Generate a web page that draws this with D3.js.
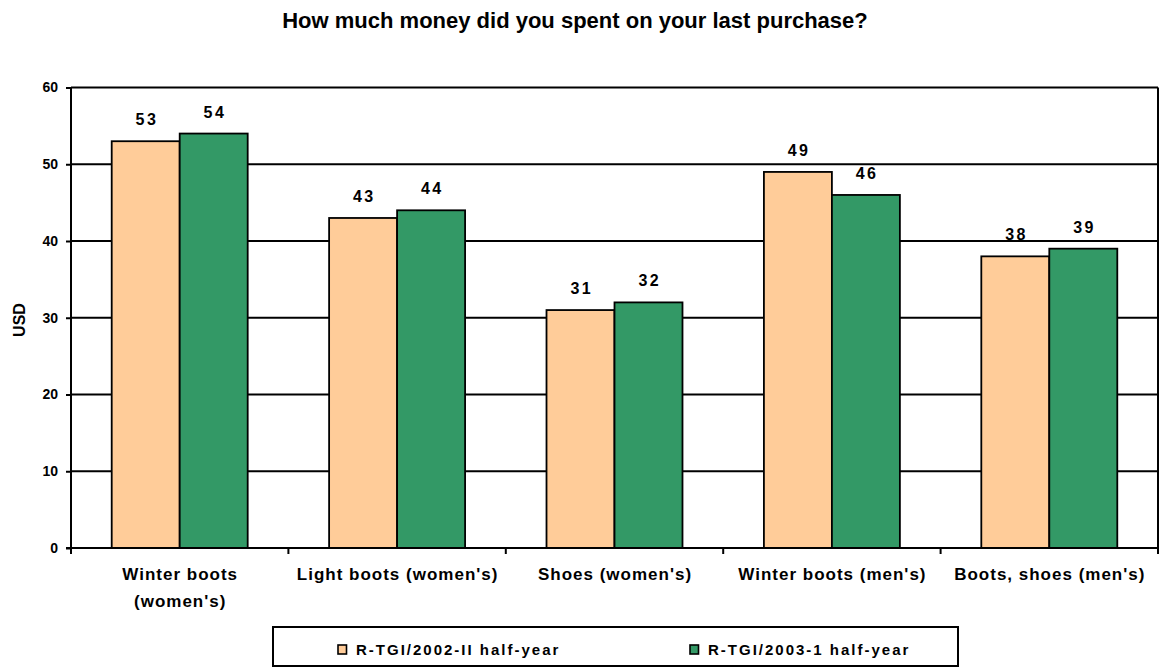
<!DOCTYPE html>
<html>
<head>
<meta charset="utf-8">
<script src="https://cdn.jsdelivr.net/npm/d3@7"></script>
<style>
  html, body { margin: 0; padding: 0; background: #fff; }
  svg { display: block; }
  text { font-family: "Liberation Sans", Arial, sans-serif; font-weight: bold; fill: #000; }
</style>
</head>
<body>
<svg id="chart" width="1160" height="668"></svg>
<script>
// Average spend on the last footwear purchase, USD
const categories = ["Winter boots (women's)", "Light boots (women's)", "Shoes (women's)", "Winter boots (men's)", "Boots, shoes (men's)"];
const categoryLines = [["Winter boots", "(women's)"], ["Light boots (women's)"], ["Shoes (women's)"], ["Winter boots (men's)"], ["Boots, shoes (men's)"]];
const seriesNames = ["R-TGI/2002-II half-year", "R-TGI/2003-1 half-year"];
const values2002 = [53, 43, 31, 49, 38];
const values2003 = [54, 44, 32, 46, 39];
const seriesColors = ["#FFCC99", "#339966"];
const yTicks = [0, 10, 20, 30, 40, 50, 60];

const seriesValues = [values2002, values2003];
const rows = categories.map((c, i) => ({ category: c, lines: categoryLines[i], values: seriesValues.map(s => s[i]) }));

const svg = d3.select("#chart");
const plot = { left: 71, right: 1158, top: 87.5, bottom: 548 };

const x0 = d3.scaleBand()
  .domain(categories)
  .range([plot.left, plot.right])
  .paddingInner(0.3745)
  .paddingOuter(0.3745 / 2);

const x1 = d3.scaleBand()
  .domain(d3.range(seriesNames.length))
  .range([0, x0.bandwidth()]);

const y = d3.scaleLinear().domain([0, 60]).range([plot.bottom, plot.top]);

// Title
svg.append("text")
  .attr("x", 575).attr("y", 28)
  .attr("text-anchor", "middle")
  .style("font-size", "22px")
  .text("How much money did you spent on your last purchase?");

// Horizontal gridlines
svg.append("g")
  .selectAll("line")
  .data(yTicks.filter(t => t > 0))
  .join("line")
  .attr("x1", plot.left).attr("x2", plot.right)
  .attr("y1", d => y(d)).attr("y2", d => y(d))
  .attr("stroke", "#000").attr("stroke-width", 2);

// Right border of the plot area
svg.append("line")
  .attr("x1", plot.right).attr("x2", plot.right)
  .attr("y1", y(60)).attr("y2", y(0))
  .attr("stroke", "#000").attr("stroke-width", 2);

// Bars
const groups = svg.append("g")
  .selectAll("g")
  .data(rows)
  .join("g")
  .attr("transform", d => `translate(${x0(d.category)},0)`);

groups.selectAll("rect")
  .data(d => d.values.map((v, k) => ({ v, k })))
  .join("rect")
  .attr("x", d => x1(d.k))
  .attr("width", x1.bandwidth())
  .attr("y", d => y(d.v))
  .attr("height", d => y(0) - y(d.v))
  .attr("fill", d => seriesColors[d.k])
  .attr("stroke", "#000")
  .attr("stroke-width", 1.8);

// Value labels
groups.selectAll("text.val")
  .data(d => d.values.map((v, k) => ({ v, k })))
  .join("text")
  .attr("class", "val")
  .attr("x", d => x1(d.k) + x1.bandwidth() / 2 + 1.2)
  .attr("y", d => y(d.v) - 16)
  .attr("text-anchor", "middle")
  .style("font-size", "16px")
  .style("letter-spacing", "2.4px")
  .text(d => d3.format("d")(d.v));

// Y axis
const yAxis = svg.append("g")
  .attr("transform", `translate(${plot.left},0)`)
  .call(d3.axisLeft(y).tickValues(yTicks).tickSize(5).tickPadding(8).tickFormat(d3.format("d")));
yAxis.select(".domain").attr("stroke", "#000").attr("stroke-width", 2).attr("d", `M0,${y(60)}V${y(0)}`);
yAxis.selectAll(".tick line").attr("stroke", "#000").attr("stroke-width", 2);
yAxis.selectAll(".tick text")
  .style("font-family", '"Liberation Sans", Arial, sans-serif')
  .style("font-weight", "bold")
  .style("font-size", "14px")
  .attr("fill", "#000");

// X axis baseline and category separators
const boundaries = categories.map(c => x0(c) - x0.step() * x0.paddingInner() / 2).concat([plot.right]);
svg.append("line")
  .attr("x1", plot.left - 5).attr("x2", plot.right + 1)
  .attr("y1", y(0)).attr("y2", y(0))
  .attr("stroke", "#000").attr("stroke-width", 2);
svg.append("g")
  .selectAll("line")
  .data(boundaries)
  .join("line")
  .attr("x1", d => d).attr("x2", d => d)
  .attr("y1", y(0)).attr("y2", y(0) + 6)
  .attr("stroke", "#000").attr("stroke-width", 2);

// Category labels
const catLabels = svg.append("g")
  .selectAll("text")
  .data(rows)
  .join("text")
  .attr("text-anchor", "middle")
  .style("font-size", "17px")
  .style("letter-spacing", "1px")
  .attr("transform", d => `translate(${x0(d.category) + x0.bandwidth() / 2 + 0.5},580)`);
catLabels.selectAll("tspan")
  .data(d => d.lines)
  .join("tspan")
  .attr("x", 0)
  .attr("dy", (d, i) => i === 0 ? 0 : 27)
  .text(d => d);

// Y axis title
svg.append("text")
  .attr("transform", "translate(25,320) rotate(-90)")
  .attr("text-anchor", "middle")
  .style("font-size", "16px")
  .text("USD");

// Legend
const legend = svg.append("g");
legend.append("rect")
  .attr("x", 273).attr("y", 627)
  .attr("width", 685).attr("height", 39)
  .attr("fill", "#fff").attr("stroke", "#000").attr("stroke-width", 2);
const legendX = [338, 690];
const items = legend.selectAll("g.item")
  .data(seriesNames)
  .join("g")
  .attr("class", "item")
  .attr("transform", (d, i) => `translate(${legendX[i]},0)`);
items.append("rect")
  .attr("x", 0).attr("y", 645)
  .attr("width", 8.5).attr("height", 9)
  .attr("fill", (d, i) => seriesColors[i])
  .attr("stroke", "#000").attr("stroke-width", 1.6);
items.append("text")
  .attr("x", 18).attr("y", 655)
  .style("font-size", "15px")
  .style("letter-spacing", "2px")
  .text(d => d);
</script>
</body>
</html>
